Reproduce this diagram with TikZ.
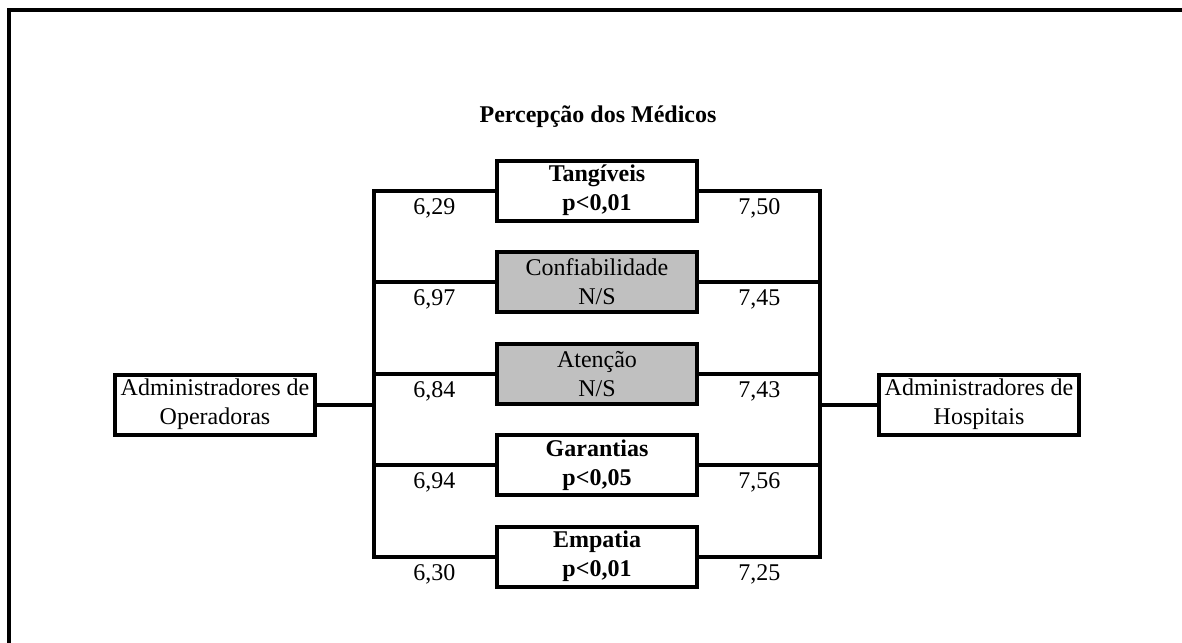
\documentclass[tikz,border=0pt]{standalone}
\usepackage{fontspec}
\setmainfont{Liberation Serif}

\definecolor{cinza}{RGB}{192,192,192}

\tikzset{
    caixa/.style={draw, line width=2pt, minimum width=100pt, minimum height=30pt,
        inner sep=0pt, align=center, font=\fontsize{12}{14.5}\selectfont},
    cinzenta/.style={caixa, fill=cinza},
    valor/.style={below, inner sep=3pt, font=\fontsize{12}{14.5}\selectfont},
    ligacao/.style={line width=2pt, line cap=rect},
}

\begin{document}
\begin{tikzpicture}[x=0.5pt, y=-0.5pt]
            \useasboundingbox (0,0) rectangle (1182,642);

            % moldura
            \draw [line width=2pt] (9,650) -- (9,10) -- (1190,10);

            \node[font=\bfseries\fontsize{12}{14.5}\selectfont] (titulo) at (598,117) {Percepção dos Médicos};

            \node[caixa] (operadoras) at (215,404.5) {Administradores de\\Operadoras};
            \node[caixa] (hospitais) at (979,404.5) {Administradores de\\Hospitais};

            \node[caixa] (tangiveis) at (597,190.5) {\textbf{Tangíveis}\\\textbf{p<0,01}};
            \node[cinzenta] (confiabilidade) at (597,282) {Confiabilidade\\N/S};
            \node[cinzenta] (atencao) at (597,374) {Atenção\\N/S};
            \node[caixa] (garantias) at (597,465) {\textbf{Garantias}\\\textbf{p<0,05}};
            \node[caixa] (empatia) at (597,556.5) {\textbf{Empatia}\\\textbf{p<0,01}};

            \coordinate (esq) at (373.5,404.5);
            \coordinate (dir) at (819.5,404.5);

            \draw [ligacao] (operadoras.east) -- (esq);
            \draw [ligacao] (hospitais.west) -- (dir);

            \draw [ligacao]
                (tangiveis.west) -- node[valor] {6,29} (tangiveis.west -| esq)
                -- (empatia.west -| esq) -- node[valor] {6,30} (empatia.west);
            \draw [ligacao] (confiabilidade.west) -- node[valor] {6,97} (confiabilidade.west -| esq);
            \draw [ligacao] (atencao.west) -- node[valor] {6,84} (atencao.west -| esq);
            \draw [ligacao] (garantias.west) -- node[valor] {6,94} (garantias.west -| esq);

            \draw [ligacao]
                (tangiveis.east) -- node[valor] {7,50} (tangiveis.east -| dir)
                -- (empatia.east -| dir) -- node[valor] {7,25} (empatia.east);
            \draw [ligacao] (confiabilidade.east) -- node[valor] {7,45} (confiabilidade.east -| dir);
            \draw [ligacao] (atencao.east) -- node[valor] {7,43} (atencao.east -| dir);
            \draw [ligacao] (garantias.east) -- node[valor] {7,56} (garantias.east -| dir);

        \end{tikzpicture}
\end{document}
